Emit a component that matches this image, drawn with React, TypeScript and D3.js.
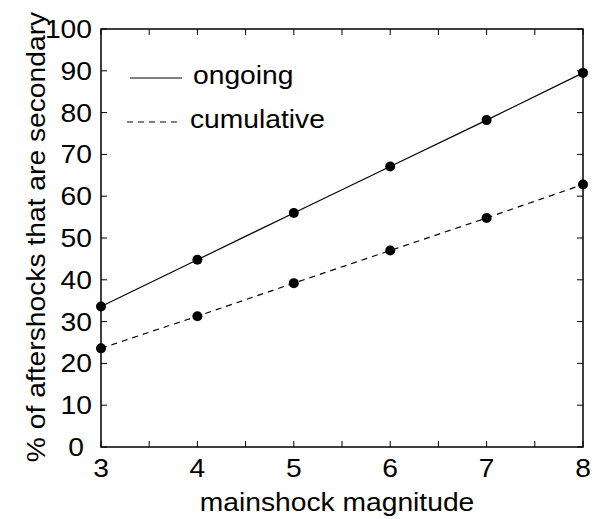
import React from "react";
import * as d3 from "d3";

const magnitudes = [3, 4, 5, 6, 7, 8];
const ongoing = [33.6, 44.8, 56.0, 67.1, 78.2, 89.5];
const cumulative = [23.6, 31.3, 39.2, 47.0, 54.8, 62.8];
const xTickLabels = [3, 4, 5, 6, 7, 8];
const yTickLabels = [0, 10, 20, 30, 40, 50, 60, 70, 80, 90, 100];
const xMinorTicks = [3.5, 4.5, 5.5, 6.5, 7.5];

const W = 598, H = 519;
const L = 101, R = 583, T = 29, B = 447;
const FONT = "'Liberation Sans', Arial, Helvetica, sans-serif";
const FS = 25;
const SX = 1.13;

function Txt({ x, y, anchor = "start", rotate = 0, children }: any) {
  return (
    <text
      transform={`translate(${x},${y}) rotate(${rotate}) scale(${SX},1)`}
      textAnchor={anchor}
      fontSize={FS}
      fill="#000"
    >
      {children}
    </text>
  );
}

export default function App() {
  const x = d3.scaleLinear().domain([3, 8]).range([L, R]);
  const y = d3.scaleLinear().domain([0, 100]).range([B, T]);
  const line = d3.line<number>().x((_, i) => x(magnitudes[i])).y((d) => y(d));
  const tl = 6;
  return (
    <svg width={W} height={H} style={{ position: "absolute", left: 0, top: 0 }} fontFamily={FONT}>
      <rect x={0} y={0} width={W} height={H} fill="#fff" />
      {[...xTickLabels, ...xMinorTicks].map((v) => (
        <g key={"xt" + v}>
          <line x1={x(v)} x2={x(v)} y1={B} y2={B - tl} stroke="#000" strokeWidth={1} />
          <line x1={x(v)} x2={x(v)} y1={T} y2={T + tl} stroke="#000" strokeWidth={1} />
        </g>
      ))}
      {yTickLabels.map((v) => (
        <g key={"yt" + v}>
          <line x1={L} x2={L + tl} y1={y(v)} y2={y(v)} stroke="#000" strokeWidth={1} />
          <line x1={R} x2={R - tl} y1={y(v)} y2={y(v)} stroke="#000" strokeWidth={1} />
        </g>
      ))}
      <rect x={L} y={T} width={R - L} height={B - T} fill="none" stroke="#000" strokeWidth={1.5} />
      {xTickLabels.map((v) => (
        <Txt key={"xl" + v} x={x(v)} y={477} anchor="middle">{v}</Txt>
      ))}
      {yTickLabels.map((v) => (
        <Txt key={"yl" + v} x={v === 0 ? 84 : 92} y={y(v) + 9} anchor="end">{v}</Txt>
      ))}
      <path d={line(ongoing) || ""} fill="none" stroke="#000" strokeWidth={1.2} />
      <path d={line(cumulative) || ""} fill="none" stroke="#000" strokeWidth={1.2} strokeDasharray="6,5" />
      {ongoing.map((v, i) => (
        <circle key={"o" + i} cx={x(magnitudes[i])} cy={y(v)} r={5} fill="#000" />
      ))}
      {cumulative.map((v, i) => (
        <circle key={"c" + i} cx={x(magnitudes[i])} cy={y(v)} r={5} fill="#000" />
      ))}
      <line x1={130} x2={182} y1={78} y2={78} stroke="#000" strokeWidth={1.2} />
      <Txt x={193} y={84}>ongoing</Txt>
      <line x1={127} x2={180} y1={122} y2={122} stroke="#000" strokeWidth={1.2} strokeDasharray="6,5" />
      <Txt x={190} y={128}>cumulative</Txt>
      <Txt x={337} y={511} anchor="middle">mainshock magnitude</Txt>
      <Txt x={45} y={237} anchor="middle" rotate={-90}>% of aftershocks that are secondary</Txt>
    </svg>
  );
}
